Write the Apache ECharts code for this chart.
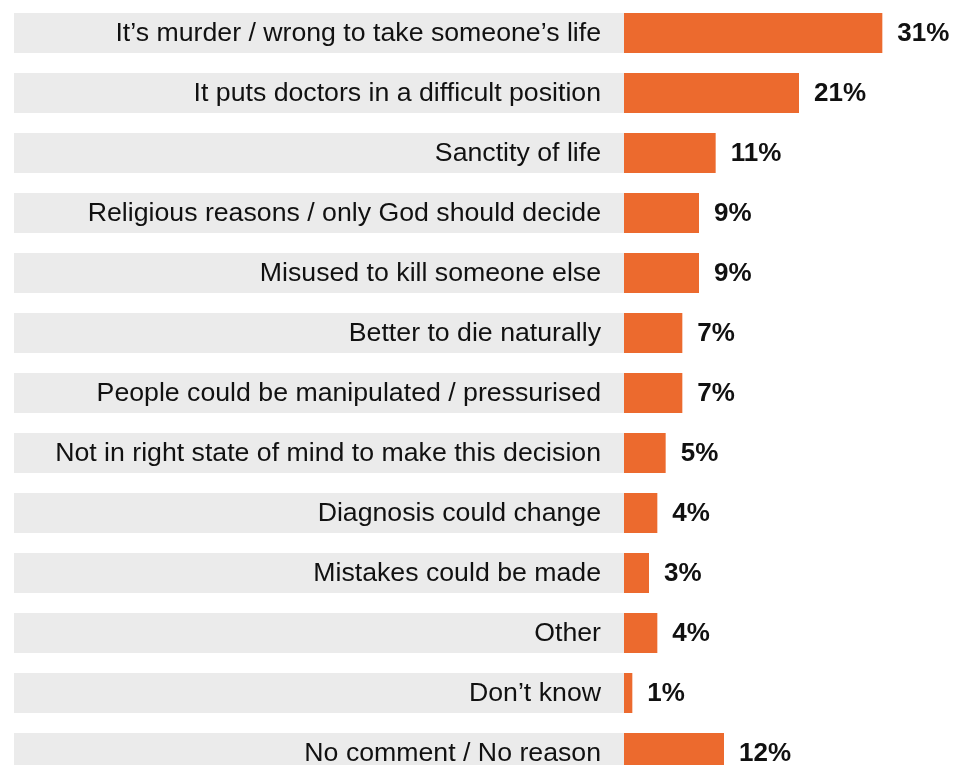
<!DOCTYPE html>
<html>
<head>
<meta charset="utf-8">
<script src="https://cdn.jsdelivr.net/npm/echarts@6/dist/echarts.min.js"></script>
<style>
  html, body { margin: 0; padding: 0; background: #ffffff; }
  #chart { width: 955px; height: 765px; }
</style>
</head>
<body>
<div id="chart"></div>
<script>
// Reasons given against the proposal (share of respondents, %)
const reasons = [
  "It\u2019s murder / wrong to take someone\u2019s life",
  "It puts doctors in a difficult position",
  "Sanctity of life",
  "Religious reasons / only God should decide",
  "Misused to kill someone else",
  "Better to die naturally",
  "People could be manipulated / pressurised",
  "Not in right state of mind to make this decision",
  "Diagnosis could change",
  "Mistakes could be made",
  "Other",
  "Don\u2019t know",
  "No comment / No reason"
];
const shares = [31, 21, 11, 9, 9, 7, 7, 5, 4, 3, 4, 1, 12];

const rowH = 60;
const fontFamily = "Arial, 'Liberation Sans', sans-serif";

const chart = echarts.init(document.getElementById('chart'));
chart.setOption({
  animation: false,
  backgroundColor: '#ffffff',
  grid: [
    // label panel with grey bands (last row runs past the bottom edge)
    { left: 14, width: 610, top: 3, height: rowH * reasons.length, outerBoundsMode: 'none', containLabel: false },
    // value panel
    { left: 624, width: 300, top: 3, height: rowH * reasons.length, outerBoundsMode: 'none', containLabel: false }
  ],
  xAxis: [
    { gridIndex: 0, type: 'value', min: 0, max: 1, show: false },
    { gridIndex: 1, type: 'value', min: 0, max: 36, show: false }
  ],
  yAxis: [
    { gridIndex: 0, type: 'category', data: reasons, inverse: true, show: false },
    { gridIndex: 1, type: 'category', data: reasons, inverse: true, show: false }
  ],
  series: [
    {
      type: 'bar',
      xAxisIndex: 0,
      yAxisIndex: 0,
      data: reasons.map(() => 1),
      barWidth: 40,
      itemStyle: { color: '#ebebeb' },
      label: {
        show: true,
        position: 'insideRight',
        distance: 23,
        offset: [0, 1],
        formatter: (p) => reasons[p.dataIndex],
        color: '#111111',
        fontFamily: fontFamily,
        fontSize: 26.7
      },
      silent: true
    },
    {
      type: 'bar',
      xAxisIndex: 1,
      yAxisIndex: 1,
      data: shares,
      barWidth: 40,
      itemStyle: { color: '#ec6a2e' },
      label: {
        show: true,
        position: 'right',
        distance: 15,
        offset: [0, 1],
        formatter: '{c}%',
        color: '#111111',
        fontFamily: fontFamily,
        fontWeight: 'bold',
        fontSize: 26
      }
    }
  ]
});
</script>
</body>
</html>
